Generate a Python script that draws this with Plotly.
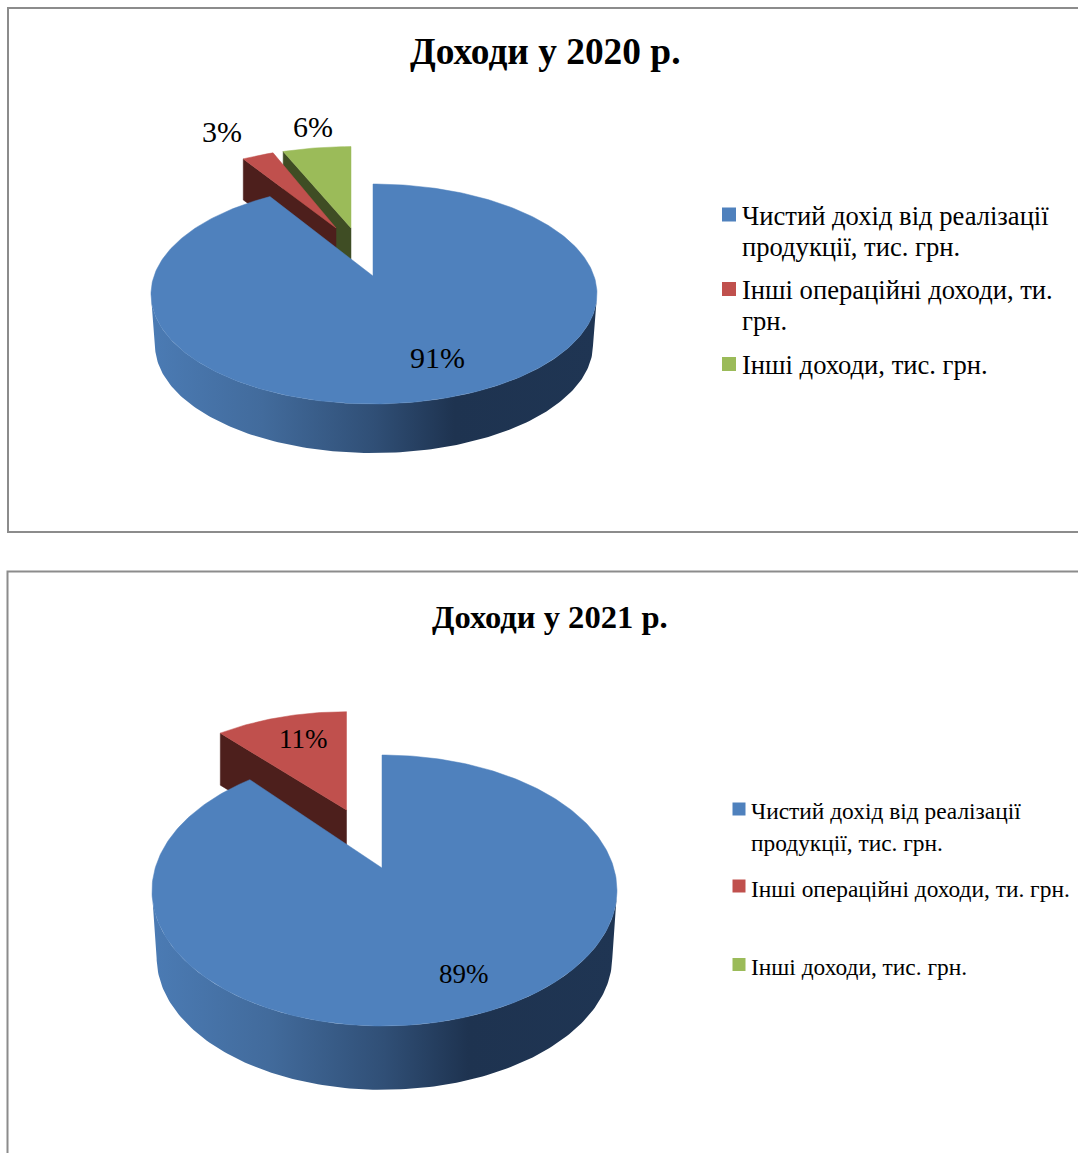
import math
import plotly.graph_objects as go

# ---- data ----
TITLE_2020 = "Доходи у 2020 р."
TITLE_2021 = "Доходи у 2021 р."
SERIES_NAMES = ["Чистий дохід від реалізації продукції, тис. грн.",
                "Інші операційні доходи, ти. грн.",
                "Інші доходи, тис. грн."]
VALUES_2020 = [91, 3, 6]
VALUES_2021 = [88.6, 11.4, 0]
LEGEND_LINES_2020 = [["Чистий дохід від реалізації", "продукції, тис. грн."],
                     ["Інші операційні доходи, ти.", "грн."],
                     ["Інші доходи, тис. грн."]]
LEGEND_LINES_2021 = [["Чистий дохід від реалізації", "продукції, тис. грн."],
                     ["Інші операційні доходи, ти. грн."],
                     ["Інші доходи, тис. грн."]]

# ---- styles and layout ----
FONT = "Liberation Serif"
TOP_COLORS = ["#4f81bd", "#c0504d", "#9bbb59"]
WALL_COLORS = [None, "#4d1f1c", "#3f4d24"]
FRAME = "#8c8c8c"
SIDE_SCALE = [[0, "#4b7bb4"], [0.25, "#426b9c"], [0.5, "#304f76"],
              [0.68, "#1e3350"], [1, "#1f3553"]]

GEOM_2020 = dict(cx=374, cy=294, rx=223, ry=110, apex=-18, depth=51, cut=41, bottom=0.982, lean=1,
                 # per slice: shift of the apex, x scale, y scale
                 place=[(-1, 0, 1, 1), (-38, -48, 0.90, 0.87), (-23, -48, 0.97, 0.885)])
GEOM_2021 = dict(cx=384.5, cy=890.5, rx=232.5, ry=135.5, apex=-22.5, depth=66.5, cut=52, bottom=0.98, lean=2.5,
                 place=[(-2.5, 0, 1, 1), (-38, -58, 0.955, 0.87), (0, 0, 1, 1)])


def project(theta, g, r=1.0):
    """Clockwise angle from the top of the disc -> picture position, in perspective."""
    c = g["apex"] / g["ry"]
    a = g["rx"] * math.sqrt(1 - c * c)
    u = r * math.sin(math.radians(theta))
    v = -r * math.cos(math.radians(theta))
    d = 1 + c * v
    return g["cx"] + a * u / d + g["lean"] * abs(u), g["cy"] + (g["ry"] * v + g["apex"]) / d


def arc(t0, t1, g):
    n = max(2, int(abs(t1 - t0)) + 1)
    return [project(t0 + (t1 - t0) * i / (n - 1), g) for i in range(n)]


def poly(fig, pts, color, name):
    fig.add_trace(go.Scatter(x=[p[0] for p in pts] + [pts[0][0]],
                             y=[p[1] for p in pts] + [pts[0][1]],
                             mode="lines", fill="toself", fillcolor=color,
                             line=dict(color=color, width=0.5),
                             name=name, hoverinfo="name", showlegend=False))


def draw_pie(fig, values, g):
    total = sum(values)
    angles = [0]
    for v in values:
        angles.append(angles[-1] + 360 * v / total)
    apex = project(0, g, 0)

    def place(p, i):
        dx, dy, sx, sy = g["place"][i]
        return (apex[0] + dx + (p[0] - apex[0]) * sx,
                apex[1] + dy + (p[1] - apex[1]) * sy)

    # exploded slices, back to front, then the big slice
    for i in range(len(values) - 1, 0, -1):
        if values[i] <= 0:
            continue
        rim = [place(p, i) for p in arc(angles[i], angles[i + 1], g)]
        a = place(apex, i)
        left = rim[0]
        wall = [left, a, (a[0], a[1] + g["cut"]), (left[0], left[1] + g["cut"])]
        poly(fig, wall, WALL_COLORS[i], SERIES_NAMES[i])
        poly(fig, [a] + rim, TOP_COLORS[i], SERIES_NAMES[i])

    # side of the big slice: front of the rim down to a slightly smaller lower rim
    upper = [place(p, 0) for p in arc(260, 100, g)]
    lower = [(g["cx"] + (p[0] - g["cx"]) * g["bottom"],
              g["cy"] + g["depth"] + (p[1] - g["cy"]) * g["bottom"]) for p in upper]
    pts = upper + lower[::-1] + [upper[0]]
    fig.add_trace(go.Scatter(x=[p[0] for p in pts], y=[p[1] for p in pts],
                             mode="lines", fill="toself",
                             fillgradient=dict(type="horizontal", colorscale=SIDE_SCALE),
                             line=dict(width=0), name=SERIES_NAMES[0],
                             hoverinfo="name", showlegend=False))
    rim = [place(p, 0) for p in arc(angles[0], angles[1], g)]
    poly(fig, [place(apex, 0)] + rim, TOP_COLORS[0], SERIES_NAMES[0])


def text(fig, x, y, s, size, bold=False, anchor="center"):
    fig.add_annotation(x=x, y=y, text=f"<b>{s}</b>" if bold else s, showarrow=False,
                       xanchor=anchor, yanchor="middle", align="left",
                       font=dict(family=FONT, size=size, color="#000000"),
                       xref="x", yref="y", borderpad=0)


fig = go.Figure()
draw_pie(fig, VALUES_2020, GEOM_2020)
draw_pie(fig, VALUES_2021, GEOM_2021)

# legend keys
KEY_SPEC = [(729, [214.5, 289, 364], 14), (739, [809, 886, 964.5], 13)]
for kx, kys, ks in KEY_SPEC:
    fig.add_trace(go.Scatter(x=[kx] * 3, y=kys, mode="markers",
                             marker=dict(symbol="square", size=ks, color=TOP_COLORS, line=dict(width=0)),
                             hoverinfo="skip", showlegend=False))

text(fig, 545.5, 51, TITLE_2020, 37.4, bold=True)
text(fig, 550, 617, TITLE_2021, 32.6, bold=True)

LABEL_POS_2020 = [(437, 357.5), (222, 131.5), (313, 126.5)]
LABEL_POS_2021 = [(464, 974), (303, 739)]
for v, (x, y) in zip(VALUES_2020, LABEL_POS_2020):
    text(fig, x, y, f"{round(v)}%", 30)
for v, (x, y) in zip(VALUES_2021, LABEL_POS_2021):
    text(fig, x, y, f"{round(v)}%", 27)

LEGEND_Y_2020 = [[216, 247], [290, 321], [365]]
LEGEND_Y_2021 = [[810.5, 842.5], [888.5], [966.5]]
for lines, ys in zip(LEGEND_LINES_2020, LEGEND_Y_2020):
    for s, y in zip(lines, ys):
        text(fig, 741, y, s, 26.6, anchor="left")
for lines, ys in zip(LEGEND_LINES_2021, LEGEND_Y_2021):
    for s, y in zip(lines, ys):
        text(fig, 750, y, s, 23.4, anchor="left")

FRAMES = [(8, 8, 1100, 532), (7.5, 571.5, 1100, 1180)]
for x0, y0, x1, y1 in FRAMES:
    fig.add_shape(type="rect", x0=x0, y0=y0, x1=x1, y1=y1, xref="x", yref="y",
                  line=dict(color=FRAME, width=2), layer="below")

fig.update_layout(width=1078, height=1153, margin=dict(l=0, r=0, t=0, b=0),
                  paper_bgcolor="white", plot_bgcolor="white", showlegend=False,
                  xaxis=dict(range=[0, 1078], visible=False, fixedrange=True),
                  yaxis=dict(range=[1153, 0], visible=False, fixedrange=True))
fig.write_html("out.html", config=dict(displayModeBar=False),
               post_script="document.body.style.margin='0';document.body.style.overflow='hidden';")
